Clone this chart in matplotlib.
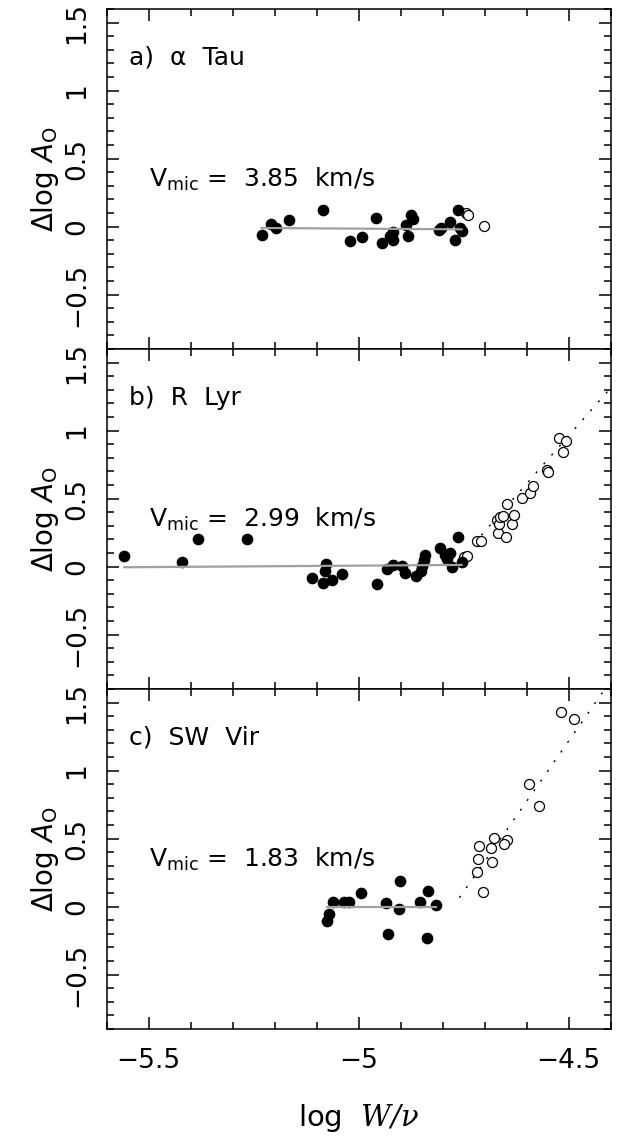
import matplotlib
matplotlib.use('Agg')
import matplotlib.pyplot as plt
from matplotlib.ticker import MultipleLocator

# --- data (x = log W/nu, y = delta log A_O) ---

# a) alpha Tau
tau_fill_x = [-5.231, -5.209, -5.197, -5.165, -5.084, -5.021, -4.991, -4.959,
              -4.944, -4.925, -4.918, -4.918, -4.887, -4.883, -4.876, -4.870,
              -4.809, -4.805, -4.783, -4.763, -4.755, -4.771, -4.759]
tau_fill_y = [-0.063, 0.018, -0.007, 0.049, 0.125, -0.105, -0.074, 0.066,
              -0.120, -0.068, -0.037, -0.100, 0.010, -0.066, 0.086, 0.054,
              -0.026, -0.007, 0.037, 0.123, -0.032, -0.096, -0.007]
tau_open_x = [-4.745, -4.739, -4.702]
tau_open_y = [0.103, 0.086, 0.005]
tau_fit_x = [-5.231, -4.755]
tau_fit_y = [-0.010, -0.020]

# b) R Lyr
lyr_fill_x = [-5.558, -5.421, -5.382, -5.267, -5.110, -5.079, -5.080, -5.086,
              -5.064, -5.040, -4.956, -4.933, -4.918, -4.898, -4.890, -4.864,
              -4.852, -4.850, -4.844, -4.842, -4.806, -4.795, -4.783, -4.779,
              -4.790, -4.763, -4.755]
lyr_fill_y = [0.080, 0.036, 0.203, 0.203, -0.081, 0.019, -0.032, -0.118,
              -0.099, -0.057, -0.130, -0.020, 0.012, 0.004, -0.045, -0.069,
              -0.030, 0.004, 0.049, 0.085, 0.134, 0.085, 0.098, 0.000,
              0.054, 0.220, 0.036]
lyr_open_x = [-4.749, -4.743, -4.719, -4.709, -4.668, -4.649, -4.670, -4.665,
              -4.664, -4.656, -4.636, -4.630, -4.648, -4.610, -4.592, -4.584,
              -4.551, -4.549, -4.522, -4.506, -4.513]
lyr_open_y = [0.073, 0.078, 0.191, 0.191, 0.250, 0.220, 0.343, 0.313,
              0.367, 0.374, 0.313, 0.379, 0.458, 0.502, 0.543, 0.593,
              0.710, 0.698, 0.943, 0.926, 0.845]
lyr_fit_x = [-5.558, -4.755]
lyr_fit_y = [-0.005, 0.012]
lyr_trend_x = [-4.745, -4.40]
lyr_trend_y = [0.100, 1.314]

# c) SW Vir
vir_fill_x = [-5.076, -5.070, -5.060, -5.034, -5.023, -4.995, -4.936, -4.931,
              -4.904, -4.902, -4.854, -4.834, -4.837, -4.817]
vir_fill_y = [-0.103, -0.054, 0.036, 0.036, 0.036, 0.102, 0.024, -0.201,
              -0.020, 0.190, 0.036, 0.117, -0.233, 0.012]
vir_open_x = [-4.518, -4.487, -4.595, -4.571, -4.679, -4.646, -4.654, -4.714,
              -4.684, -4.715, -4.683, -4.719, -4.703]
vir_open_y = [1.431, 1.382, 0.899, 0.742, 0.504, 0.492, 0.460, 0.443,
              0.429, 0.348, 0.328, 0.257, 0.110]
vir_fit_x = [-5.076, -4.817]
vir_fit_y = [-0.003, -0.003]
vir_trend_x = [-4.76, -4.40]
vir_trend_y = [0.066, 1.661]

panel_titles = ['a)  \u03b1  Tau', 'b)  R  Lyr', 'c)  SW  Vir']
vmic_values = ['3.85', '2.99', '1.83']

# --- style ---
plt.rcParams['font.family'] = 'DejaVu Sans'
plt.rcParams['mathtext.fontset'] = 'custom'
plt.rcParams['mathtext.rm'] = 'DejaVu Sans'
plt.rcParams['mathtext.it'] = 'DejaVu Sans:italic'
# serif italic only for W/nu in the x label
plt.rcParams['mathtext.bf'] = 'DejaVu Serif:italic'
plt.rcParams['axes.linewidth'] = 1.1

fig = plt.figure(figsize=(6.31, 11.45), dpi=100)

left, width, height = 0.1691, 0.7987, 0.2969
bottoms = [0.6952, 0.3983, 0.1013]

panels = [
    (tau_fill_x, tau_fill_y, tau_open_x, tau_open_y, tau_fit_x, tau_fit_y, None, None),
    (lyr_fill_x, lyr_fill_y, lyr_open_x, lyr_open_y, lyr_fit_x, lyr_fit_y, lyr_trend_x, lyr_trend_y),
    (vir_fill_x, vir_fill_y, vir_open_x, vir_open_y, vir_fit_x, vir_fit_y, vir_trend_x, vir_trend_y),
]

for i, (fx, fy, ox, oy, lx, ly, tx, ty) in enumerate(panels):
    ax = fig.add_axes([left, bottoms[i], width, height])

    # dotted trend for the strong lines
    if tx is not None:
        ax.plot(tx, ty, color='black', lw=1.0, linestyle=(0, (1.5, 7)), zorder=1)

    ax.plot(ox, oy, 'o', mfc='white', mec='black', mew=0.9, ms=7.2, zorder=2)
    ax.plot(fx, fy, 'o', color='black', ms=7.4, zorder=3)
    # grey fit through the weak lines
    ax.plot(lx, ly, color='#a0a0a0', lw=1.6, zorder=4)

    ax.set_xlim(-5.6, -4.4)
    ax.set_ylim(-0.9, 1.6)
    ax.xaxis.set_major_locator(MultipleLocator(0.5))
    ax.xaxis.set_minor_locator(MultipleLocator(0.1))
    ax.yaxis.set_major_locator(MultipleLocator(0.5))
    ax.yaxis.set_minor_locator(MultipleLocator(0.1))
    ax.tick_params(which='both', direction='in', top=True, right=True, width=1.1)
    ax.tick_params(which='major', length=8.6)
    ax.tick_params(which='minor', length=5)
    ax.tick_params(axis='y', labelsize=19, labelrotation=90, pad=12)
    ax.tick_params(axis='x', labelsize=19, pad=14)
    ax.set_yticks([-0.5, 0, 0.5, 1, 1.5])
    ax.set_yticklabels(['\u22120.5', '0', '0.5', '1', '1.5'], va='center')

    if i < 2:
        ax.tick_params(axis='x', labelbottom=False)
    else:
        ax.set_xticks([-5.5, -5, -4.5])
        ax.set_xticklabels(['\u22125.5', '\u22125', '\u22124.5'])
        ax.set_xlabel(r'log  $\mathbf{W/\nu}$', fontsize=21, labelpad=20)

    ax.set_ylabel(r'$\Delta$log $A_{\rm O}$', fontsize=20, labelpad=2)

    ax.text(-5.548, 1.19, panel_titles[i], fontsize=18, va='baseline')
    ax.text(-5.50, 0.29, r'V$_{\rm mic}$ =  ' + vmic_values[i] + '  km/s',
            fontsize=18, va='baseline')

fig.savefig('out.png', dpi=100)
